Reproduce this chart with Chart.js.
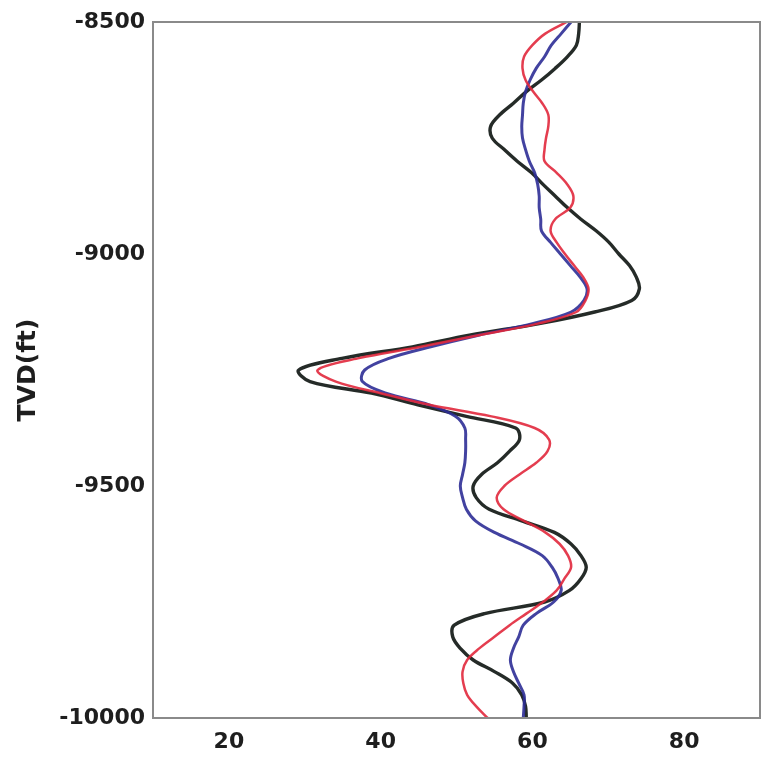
<!DOCTYPE html>
<html>
<head>
<meta charset="utf-8">
<title>TVD profile</title>
<script src="https://cdn.jsdelivr.net/npm/chart.js@4.4.1/dist/chart.umd.min.js"></script>
<style>
  html, body { margin: 0; padding: 0; background: #fff; }
  #wrap { width: 762px; height: 762px; }
</style>
</head>
<body>
<div id="wrap"><canvas id="chart" width="762" height="762"></canvas></div>
<script>
"use strict";

// depth samples every 25 ft, from -8500 down to -10000
const depths = [];
for (let d = -8500; d >= -10000; d -= 25) {
  depths.push(d);
}

// values at each depth
const blackValues = [
  66.2, 66.1, 65.8, 64.6, 63.0, 61.2, 59.2, 57.5, 55.7, 54.5,
  54.7, 56.3, 58.0, 59.9, 61.4, 63.0, 64.6, 66.4, 68.4, 70.1,
  71.4, 72.8, 73.7, 74.1, 73.1, 68.2, 60.9, 51.7, 44.2, 34.9,
  29.2, 30.7, 38.8, 44.9, 51.3, 57.8, 58.3, 57.0, 55.4, 53.3,
  52.2, 52.6, 54.3, 58.6, 62.9, 65.1, 66.4, 67.1, 66.4, 64.9,
  61.6, 53.7, 49.7, 49.5, 50.5, 52.2, 55.0, 57.4, 58.6, 59.1,
  59.2
];

const redValues = [
  64.5, 61.7, 60.0, 58.9, 58.7, 59.1, 60.1, 61.3, 62.1, 62.1,
  61.8, 61.6, 61.6, 63.2, 64.6, 65.4, 65.0, 63.0, 62.4, 63.2,
  64.3, 65.5, 66.7, 67.4, 67.0, 65.8, 60.7, 52.9, 45.3, 37.0,
  31.7, 34.1, 40.0, 46.4, 54.6, 60.3, 62.2, 62.0, 60.5, 58.3,
  56.3, 55.3, 56.2, 58.9, 61.7, 63.6, 64.7, 65.1, 64.2, 63.2,
  61.4, 59.2, 57.0, 55.0, 53.0, 51.4, 50.8, 50.9, 51.4, 52.6,
  54.1
];

const blueValues = [
  65.1, 63.8, 62.5, 61.6, 60.5, 59.7, 59.1, 58.8, 58.7, 58.6,
  58.7, 59.1, 59.6, 60.3, 60.7, 60.9, 60.9, 61.1, 61.2, 62.4,
  63.7, 65.0, 66.3, 67.2, 66.8, 65.1, 60.0, 52.9, 46.6, 41.1,
  37.9, 37.6, 40.7, 46.4, 49.9, 51.1, 51.2, 51.2, 51.1, 50.8,
  50.5, 50.8, 51.3, 52.5, 55.0, 58.4, 61.3, 62.6, 63.4, 63.8,
  62.8, 60.5, 58.8, 58.2, 57.5, 57.1, 57.5, 58.2, 58.9, 58.9,
  58.8
];

const xTicks = [20, 40, 60, 80];
const yTicks = [-10000, -9500, -9000, -8500];

function toPoints(values) {
  const pts = [];
  for (let i = 0; i < depths.length; i++) {
    pts.push({ x: values[i], y: depths[i] });
  }
  return pts;
}

// box around the plot area, like the original axes
const boxPlugin = {
  id: "box",
  afterDraw(chart) {
    const a = chart.chartArea;
    const ctx = chart.ctx;
    ctx.save();
    ctx.strokeStyle = "#8a8a8a";
    ctx.lineWidth = 2;
    ctx.strokeRect(a.left, a.top, a.right - a.left, a.bottom - a.top);
    ctx.restore();
  },
};

const tickFont = { family: "'DejaVu Sans', sans-serif", size: 22, weight: "bold" };

const config = {
  type: "scatter",
  data: {
    datasets: [
      {
        label: "red",
        data: toPoints(redValues),
        borderColor: "rgba(225, 40, 60, 0.9)",
        borderWidth: 2.5,
      },
      {
        label: "blue",
        data: toPoints(blueValues),
        borderColor: "rgba(45, 45, 150, 0.9)",
        borderWidth: 3,
      },
      {
        label: "black",
        data: toPoints(blackValues),
        borderColor: "rgba(25, 32, 28, 0.95)",
        borderWidth: 3.4,
      },
    ],
  },
  options: {
    responsive: false,
    animation: false,
    showLine: true,
    elements: {
      point: { radius: 0 },
      line: { tension: 0.35 },
    },
    layout: { padding: { top: 22, right: 2, left: 0, bottom: 0 } },
    plugins: {
      legend: { display: false },
      tooltip: { enabled: false },
    },
    scales: {
      x: {
        type: "linear",
        min: 10,
        max: 90,
        afterBuildTicks(scale) {
          scale.ticks = xTicks.map((v) => ({ value: v }));
        },
        afterFit(scale) {
          scale.height = 44;
        },
        grid: { display: false, drawTicks: false },
        border: { display: false },
        ticks: { color: "#1e1e1e", font: tickFont, padding: 11 },
      },
      y: {
        type: "linear",
        min: -10000,
        max: -8500,
        afterBuildTicks(scale) {
          scale.ticks = yTicks.map((v) => ({ value: v }));
        },
        afterFit(scale) {
          scale.width = 153;
        },
        grid: { display: false, drawTicks: false },
        border: { display: false },
        ticks: {
          color: "#1e1e1e",
          font: tickFont,
          padding: 8,
          callback: (v) => String(v),
        },
        title: {
          display: true,
          text: "TVD(ft)",
          color: "#1e1e1e",
          font: { family: "'DejaVu Sans', sans-serif", size: 25, weight: "bold" },
          padding: { top: 13, bottom: 0 },
        },
      },
    },
  },
  plugins: [boxPlugin],
};

const myChart = new Chart(document.getElementById("chart"), config);
</script>
</body>
</html>
